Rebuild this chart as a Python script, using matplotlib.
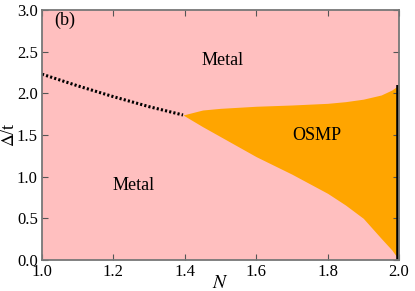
import matplotlib
matplotlib.use("Agg")
from matplotlib import pyplot as plt
import numpy as np

# OSMP region boundaries
n_osmp = [1.395, 1.45, 1.5, 1.6, 1.7, 1.8, 1.85, 1.9, 1.95, 1.98, 2.0]
upper = [1.74, 1.80, 1.82, 1.845, 1.86, 1.88, 1.90, 1.93, 1.98, 2.04, 2.10]
lower = [1.74, 1.60, 1.48, 1.24, 1.03, 0.80, 0.66, 0.50, 0.26, 0.12, 0.0]

# dotted crossover line
n_dot = [1.0, 1.1, 1.2, 1.3, 1.395]
d_dot = [2.23, 2.09, 1.96, 1.84, 1.74]

# black bar at N = 2
bar_n = 2.0
bar_top = 2.1

xticks = [1.0, 1.2, 1.4, 1.6, 1.8, 2.0]
yticks = [0.0, 0.5, 1.0, 1.5, 2.0, 2.5, 3.0]

plt.rcParams['font.family'] = ['Liberation Serif', 'DejaVu Serif']
plt.rcParams['mathtext.fontset'] = 'stix'

fig = plt.figure(figsize=(4.15, 2.91), dpi=100)
ax = fig.add_axes([42/415, 31/291, 357/415, 250/291])

pink = '#ffbfbf'
ax.set_facecolor(pink)
ax.fill_between(n_osmp, lower, upper, color='orange', lw=0)
ax.plot(n_dot, d_dot, color='black', lw=2.2, dashes=(0.7, 0.7))
ax.plot([bar_n, bar_n], [0, bar_top], color='black', lw=4, solid_capstyle='butt')

ax.text(1.507, 2.40, 'Metal', fontsize=13, ha='center', va='center')
ax.text(1.256, 0.89, 'Metal', fontsize=13, ha='center', va='center')
ax.text(1.77, 1.50, 'OSMP', fontsize=13, ha='center', va='center')
ax.text(1.035, 2.88, '(b)', fontsize=13, ha='left', va='center')

ax.set_xlim(1.0, 2.0)
ax.set_ylim(0.0, 3.0)
ax.set_xticks(xticks)
ax.set_yticks(yticks)
ax.set_xticklabels(['%.1f' % v for v in xticks])
ax.set_yticklabels(['%.1f' % v for v in yticks])
ax.tick_params(direction='in', top=True, right=True, labelsize=12,
               length=4, width=0.8, color='#555555', pad=3)
for s in ax.spines.values():
    s.set_color('#777777')
    s.set_linewidth(1.3)

ax.set_xlabel('$N$', fontsize=14)
ax.xaxis.set_label_coords(0.5, -0.062)
ax.set_ylabel(r'$\Delta$/t', fontsize=13)
ax.yaxis.set_label_coords(-0.066, 0.5)

fig.savefig('out.png', dpi=100)
